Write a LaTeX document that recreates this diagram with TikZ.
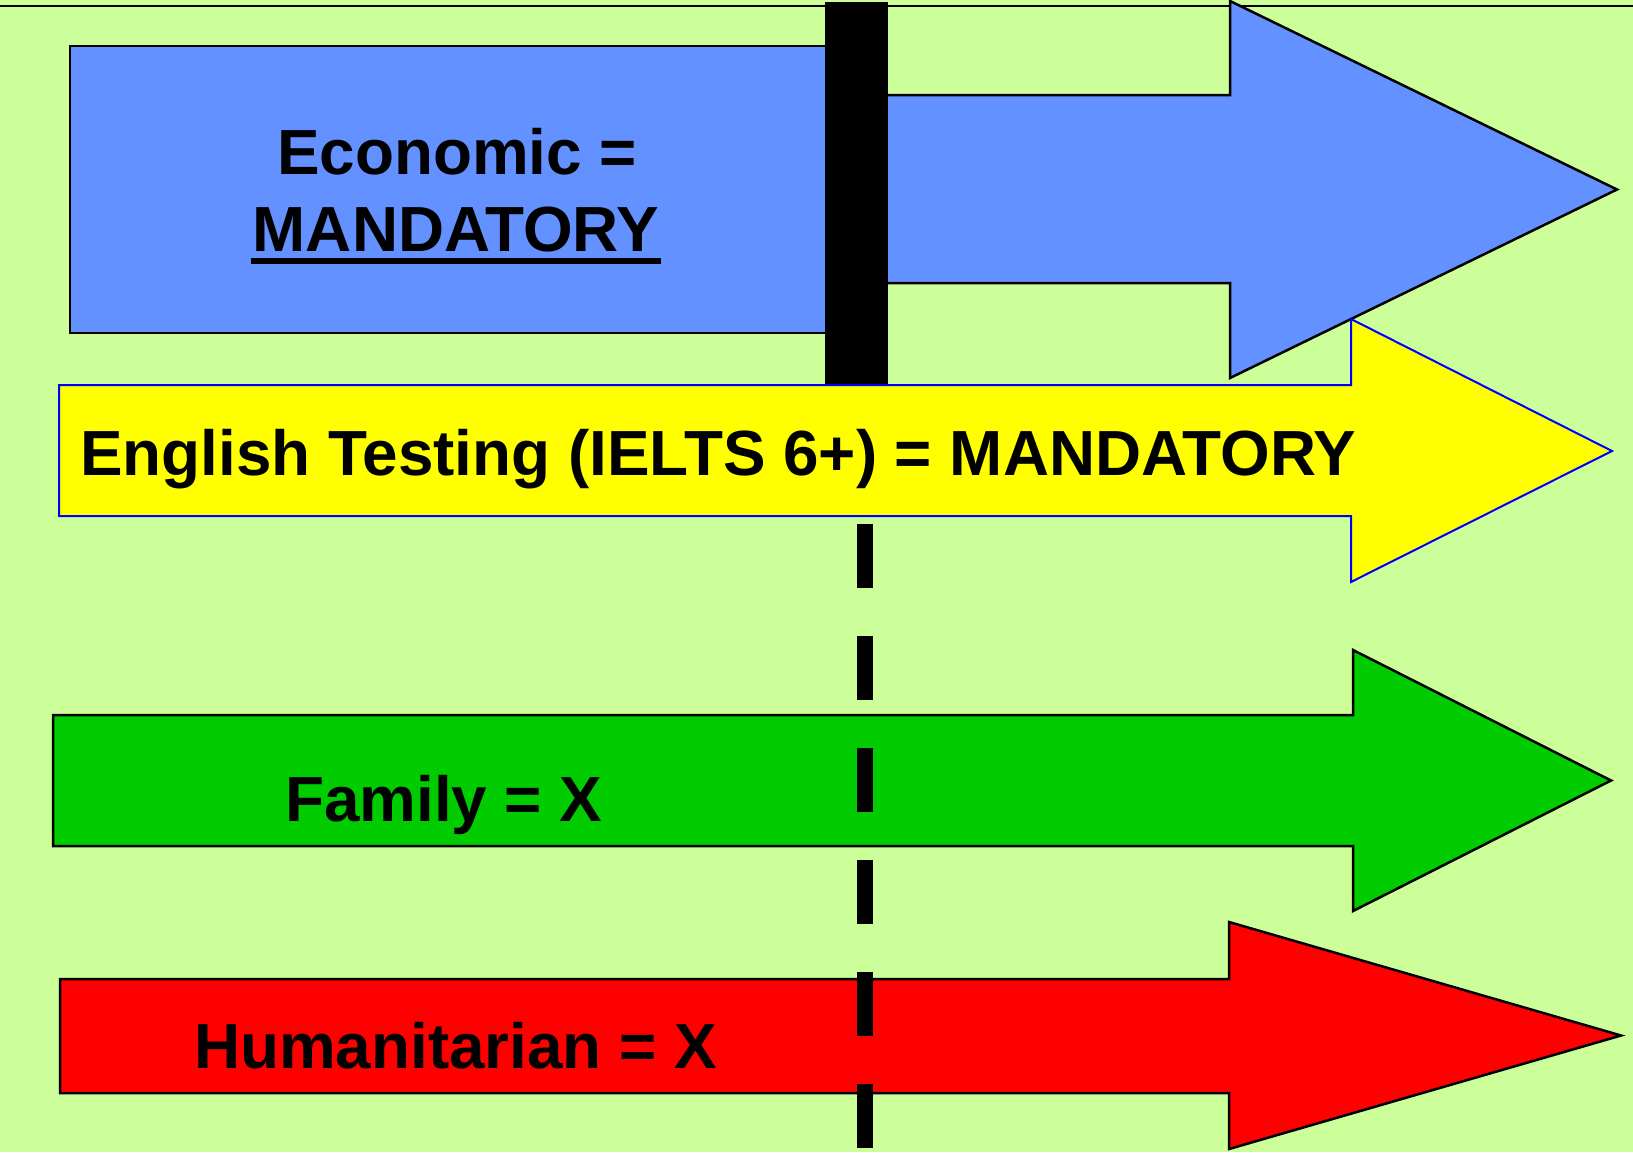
\documentclass[tikz,border=0pt]{standalone}
\usepackage{fontspec}
\setmainfont{Liberation Sans}
\begin{document}
\definecolor{bgreen}{RGB}{204,255,153}
\definecolor{skyblue}{RGB}{99,145,255}
\definecolor{famgreen}{RGB}{0,204,0}
\definecolor{pureblue}{RGB}{0,0,255}
\definecolor{pureyellow}{RGB}{255,255,0}
\tikzset{
  arrowshape/.style={draw=black, line width=2.5pt, line join=miter},
  label/.style={inner sep=0pt, font=\fontsize{63.8}{76}\selectfont\bfseries, text=black},
}
\begin{tikzpicture}[x=1pt, y=-1pt]
  % page background and frame
  \fill[bgreen] (0,0) rectangle (1633,1152);
  \useasboundingbox (0,0) rectangle (1633,1152);
  \draw[line width=2pt] (0,6) -- (1633,6);

  % Economic: blue arrow behind a box and the black bar
  \draw[arrowshape, fill=skyblue] (850,95) -- (1230,95) -- (1230,1) -- (1617,189.5)
        -- (1230,378) -- (1230,283) -- (850,283) -- cycle;
  \draw[arrowshape, fill=skyblue] (70,46) rectangle (826,333);
  \fill[black] (825,2) rectangle (888,384);

  % English testing: yellow arrow
  \draw[line width=2pt, draw=pureblue, fill=pureyellow, line join=miter]
        (59,385) -- (1351,385) -- (1351,319) -- (1612,451) -- (1351,582)
        -- (1351,516) -- (59,516) -- cycle;

  % Family: green arrow
  \draw[arrowshape, fill=famgreen] (53,715) -- (1353,715) -- (1353,650) -- (1611,780.5)
        -- (1353,911) -- (1353,846) -- (53,846) -- cycle;

  % Humanitarian: red arrow
  \draw[arrowshape, fill=red] (60,979) -- (1229,979) -- (1229,922) -- (1621,1035.5)
        -- (1229,1149) -- (1229,1093) -- (60,1093) -- cycle;

  % dashed divider below the bar
  \draw[line width=16pt, dash pattern=on 64pt off 48pt] (865,524) -- (865,1160);

  % labels
  \node[label, anchor=base] (econ) at (457,174) {Economic =};
  \node[label, anchor=base] (econm) at (456,251) {MANDATORY};
  \draw[line width=6pt] ([xshift=-2pt,yshift=-10pt]econm.base west) -- ([xshift=2pt,yshift=-10pt]econm.base east);
  \node[label, anchor=base west] (eng) at (80,475) {English Testing (IELTS 6+) = MANDATORY};
  \node[label, anchor=base west] (fam) at (285,821) {Family = X};
  \node[label, anchor=base west] (hum) at (194,1068) {Humanitarian = X};
\end{tikzpicture}
\end{document}
